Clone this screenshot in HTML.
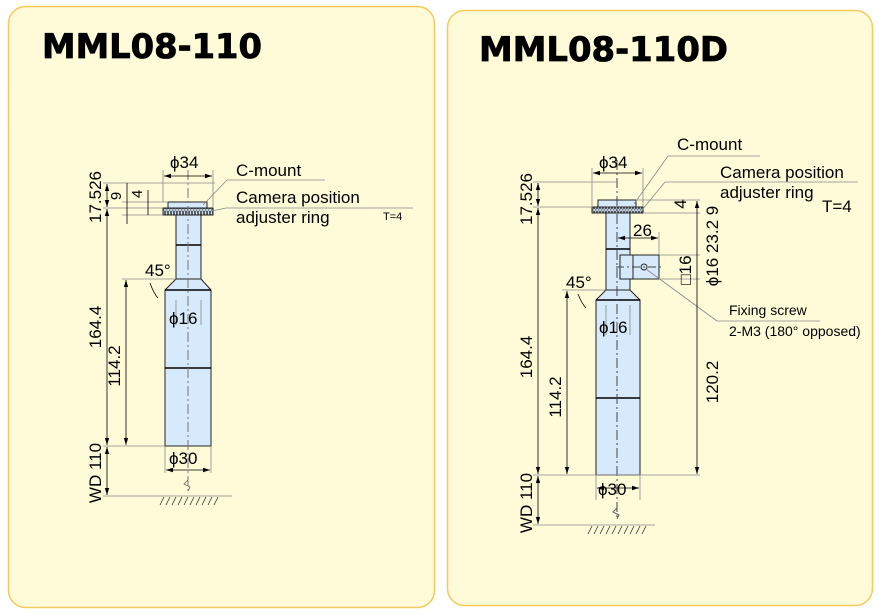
<!DOCTYPE html>
<html><head><meta charset="utf-8"><style>
html,body{margin:0;padding:0;background:#fff;}
svg{display:block;font-family:"Liberation Sans",sans-serif;}
</style></head><body>
<svg width="879" height="614" viewBox="0 0 879 614" xmlns="http://www.w3.org/2000/svg">
<defs>
<marker id="a" markerWidth="8" markerHeight="6" refX="7" refY="3" orient="auto-start-reverse" markerUnits="userSpaceOnUse"><path d="M0,0.8 L7,3 L0,5.2Z" fill="#000"/></marker>
<pattern id="k" width="3" height="6" patternUnits="userSpaceOnUse"><rect width="3" height="6" fill="#d6eafb"/><rect x="0.5" y="0.8" width="2" height="4.4" rx="1" fill="none" stroke="#222" stroke-width="0.7"/></pattern>
</defs>
<rect x="8.5" y="6.5" width="426" height="601" rx="17" fill="#fffbd8" stroke="#f8c95a" stroke-width="1.5"/>
<rect x="447.5" y="10.5" width="425" height="595" rx="17" fill="#fffbd8" stroke="#f8c95a" stroke-width="1.5"/>
<text x="42" y="58" font-size="34" font-weight="bold" font-family="DejaVu Sans,Liberation Sans,sans-serif" textLength="220" lengthAdjust="spacingAndGlyphs" stroke="#000" stroke-width="0.8">MML08-110</text>
<text x="479" y="61" font-size="34" font-weight="bold" font-family="DejaVu Sans,Liberation Sans,sans-serif" textLength="249" lengthAdjust="spacingAndGlyphs" stroke="#000" stroke-width="0.8">MML08-110D</text>

<!-- LEFT -->
<g stroke="#222" stroke-width="1" fill="#d6eafb">
<rect x="168" y="202" width="39" height="6"/>
<rect x="163" y="208" width="50" height="7" fill="url(#k)"/>
<rect x="176" y="215" width="25" height="64"/>
<path d="M176,279 L201,279 L211,290 L211,446 L165,446 L165,290Z"/>
</g>
<g stroke="#000" stroke-width="1.6"><line x1="176" y1="245" x2="201" y2="245"/><line x1="165" y1="290" x2="211" y2="290"/><line x1="165" y1="368" x2="211" y2="368"/></g>
<line x1="188" y1="170" x2="188" y2="492" stroke="#777" stroke-dasharray="10,3,2,3"/>
<g stroke="#888" stroke-width="0.8" fill="none">
<line x1="103" y1="183" x2="215" y2="183"/><line x1="103" y1="208" x2="163" y2="208"/><line x1="103" y1="446" x2="165" y2="446"/>
<line x1="103" y1="496" x2="232" y2="496"/><line x1="122" y1="279" x2="176" y2="279"/>
<line x1="163" y1="170" x2="163" y2="202"/><line x1="213" y1="170" x2="213" y2="208"/>
<line x1="122" y1="202" x2="168" y2="202"/><line x1="122" y1="215" x2="163" y2="215"/>
<line x1="165" y1="446" x2="165" y2="473"/><line x1="211" y1="446" x2="211" y2="473"/>
<line x1="176" y1="300" x2="176" y2="325"/><line x1="201" y1="300" x2="201" y2="325"/>
<line x1="203" y1="205" x2="227" y2="180"/><line x1="227" y1="180" x2="325" y2="180"/>
<line x1="212" y1="211" x2="226" y2="208"/><line x1="226" y1="208" x2="413" y2="208"/>
</g>
<g stroke="#000" stroke-width="0.8" fill="none" marker-start="url(#a)" marker-end="url(#a)">
<line x1="107" y1="184" x2="107" y2="207"/><line x1="107" y1="209" x2="107" y2="445"/><line x1="107" y1="447" x2="107" y2="495"/>
<line x1="126" y1="280" x2="126" y2="445"/><line x1="164" y1="176" x2="212" y2="176"/><line x1="166" y1="470" x2="210" y2="470"/>
</g>
<g stroke="#000" stroke-width="0.8" fill="none">
<line x1="127" y1="183" x2="127" y2="224"/><line x1="148" y1="190" x2="148" y2="215"/>
<path d="M150,283 Q154,294 158,298"/>
<path d="M188,480 l-4,4 l6,3 l-2,4" stroke="#666"/>
</g>
<g stroke="#333" stroke-width="0.8"><path d="M160,505 l4,-8 M166,505 l4,-8 M172,505 l4,-8 M178,505 l4,-8 M184,505 l4,-8 M190,505 l4,-8 M196,505 l4,-8 M202,505 l4,-8 M208,505 l4,-8 M214,505 l4,-8"/></g>
<g font-size="17" fill="#000">
<text x="170" y="168">ϕ34</text>
<text x="236" y="176">C-mount</text>
<text x="236" y="203">Camera position</text>
<text x="236" y="223">adjuster ring</text>
<text x="383" y="220" font-size="11">T=4</text>
<text x="145" y="276">45°</text>
<text x="169" y="324">ϕ16</text>
<text x="169" y="464">ϕ30</text>
<g text-anchor="middle">
<text transform="translate(101,197) rotate(-90)">17.526</text>
<text transform="translate(101,327) rotate(-90)">164.4</text>
<text transform="translate(101,473) rotate(-90)">WD 110</text>
<text transform="translate(120,366) rotate(-90)">114.2</text>
<text transform="translate(121,196) rotate(-90)" font-size="15">9</text>
<text transform="translate(142,194) rotate(-90)" font-size="15">4</text>
</g>
</g>

<!-- RIGHT -->
<g stroke="#222" stroke-width="1" fill="#d6eafb">
<rect x="598" y="200" width="38" height="7"/>
<rect x="592" y="207" width="51" height="6" fill="url(#k)"/>
<rect x="606" y="213" width="24" height="77"/>
<rect x="620" y="255" width="39" height="24"/>
<path d="M606,290 L630,290 L640,300 L640,475 L596,475 L596,300Z"/>
</g>
<g stroke="#000" stroke-width="1.6"><line x1="606" y1="249" x2="630" y2="249"/><line x1="596" y1="300" x2="640" y2="300"/><line x1="596" y1="398" x2="640" y2="398"/></g>
<line x1="633" y1="255" x2="633" y2="279" stroke="#222"/>
<circle cx="644" cy="267" r="3" fill="none" stroke="#222"/>
<line x1="617" y1="160" x2="617" y2="520" stroke="#444" stroke-dasharray="10,3,2,3"/>
<line x1="616" y1="267" x2="664" y2="267" stroke="#444" stroke-dasharray="8,3,2,3"/>
<g stroke="#888" stroke-width="0.8" fill="none">
<line x1="533" y1="182" x2="617" y2="182"/><line x1="533" y1="207" x2="592" y2="207"/><line x1="533" y1="475" x2="700" y2="475"/>
<line x1="533" y1="525" x2="655" y2="525"/><line x1="562" y1="290" x2="606" y2="290"/>
<line x1="592" y1="168" x2="592" y2="207"/><line x1="643" y1="168" x2="643" y2="207"/>
<line x1="636" y1="200" x2="700" y2="200"/><line x1="643" y1="213" x2="700" y2="213"/>
<line x1="659" y1="255" x2="700" y2="255"/><line x1="659" y1="279" x2="700" y2="279"/>
<line x1="659" y1="232" x2="659" y2="255"/>
<line x1="596" y1="475" x2="596" y2="500"/><line x1="640" y1="475" x2="640" y2="500"/>
<line x1="606" y1="305" x2="606" y2="335"/><line x1="630" y1="305" x2="630" y2="335"/>
<line x1="634" y1="204" x2="668" y2="156"/><line x1="668" y1="156" x2="760" y2="156"/>
<line x1="642" y1="210" x2="665" y2="182"/><line x1="665" y1="182" x2="858" y2="182"/>
<line x1="646" y1="269" x2="717" y2="321"/><line x1="717" y1="321" x2="820" y2="321"/>
</g>
<g stroke="#000" stroke-width="0.8" fill="none" marker-start="url(#a)" marker-end="url(#a)">
<line x1="538" y1="183" x2="538" y2="206"/><line x1="538" y1="208" x2="538" y2="474"/><line x1="538" y1="476" x2="538" y2="524"/>
<line x1="567" y1="291" x2="567" y2="474"/><line x1="697" y1="201" x2="697" y2="474"/>
<line x1="593" y1="173" x2="642" y2="173"/><line x1="597" y1="488" x2="639" y2="488"/>
<line x1="618" y1="238" x2="658" y2="238"/>
</g>
<path d="M578,294 Q582,304 586,308" stroke="#000" stroke-width="0.8" fill="none"/>
<path d="M617,508 l-4,4 l6,3 l-2,4" stroke="#666" fill="none"/>
<g stroke="#333" stroke-width="0.8"><path d="M588,534 l4,-8 M594,534 l4,-8 M600,534 l4,-8 M606,534 l4,-8 M612,534 l4,-8 M618,534 l4,-8 M624,534 l4,-8 M630,534 l4,-8 M636,534 l4,-8 M642,534 l4,-8"/></g>
<g font-size="17" fill="#000">
<text x="599" y="168">ϕ34</text>
<text x="677" y="150">C-mount</text>
<text x="720" y="178">Camera position</text>
<text x="720" y="198">adjuster ring</text>
<text x="822" y="212">T=4</text>
<text x="633" y="236">26</text>
<text x="566" y="288">45°</text>
<text x="599" y="333">ϕ16</text>
<text x="598" y="495">ϕ30</text>
<text x="729" y="315" font-size="14">Fixing screw</text>
<text x="729" y="336" font-size="14">2-M3 (180° opposed)</text>
<g text-anchor="middle">
<text transform="translate(532,199) rotate(-90)">17.526</text>
<text transform="translate(532,357) rotate(-90)">164.4</text>
<text transform="translate(532,503) rotate(-90)">WD 110</text>
<text transform="translate(561,397) rotate(-90)">114.2</text>
<text transform="translate(718,382) rotate(-90)">120.2</text>
<text transform="translate(686,204) rotate(-90)">4</text>
<text transform="translate(718,246) rotate(-90)">ϕ16 23.2 9</text>
<text transform="translate(691,270) rotate(-90)">□16</text>
</g>
</g>
</svg>
</body></html>
